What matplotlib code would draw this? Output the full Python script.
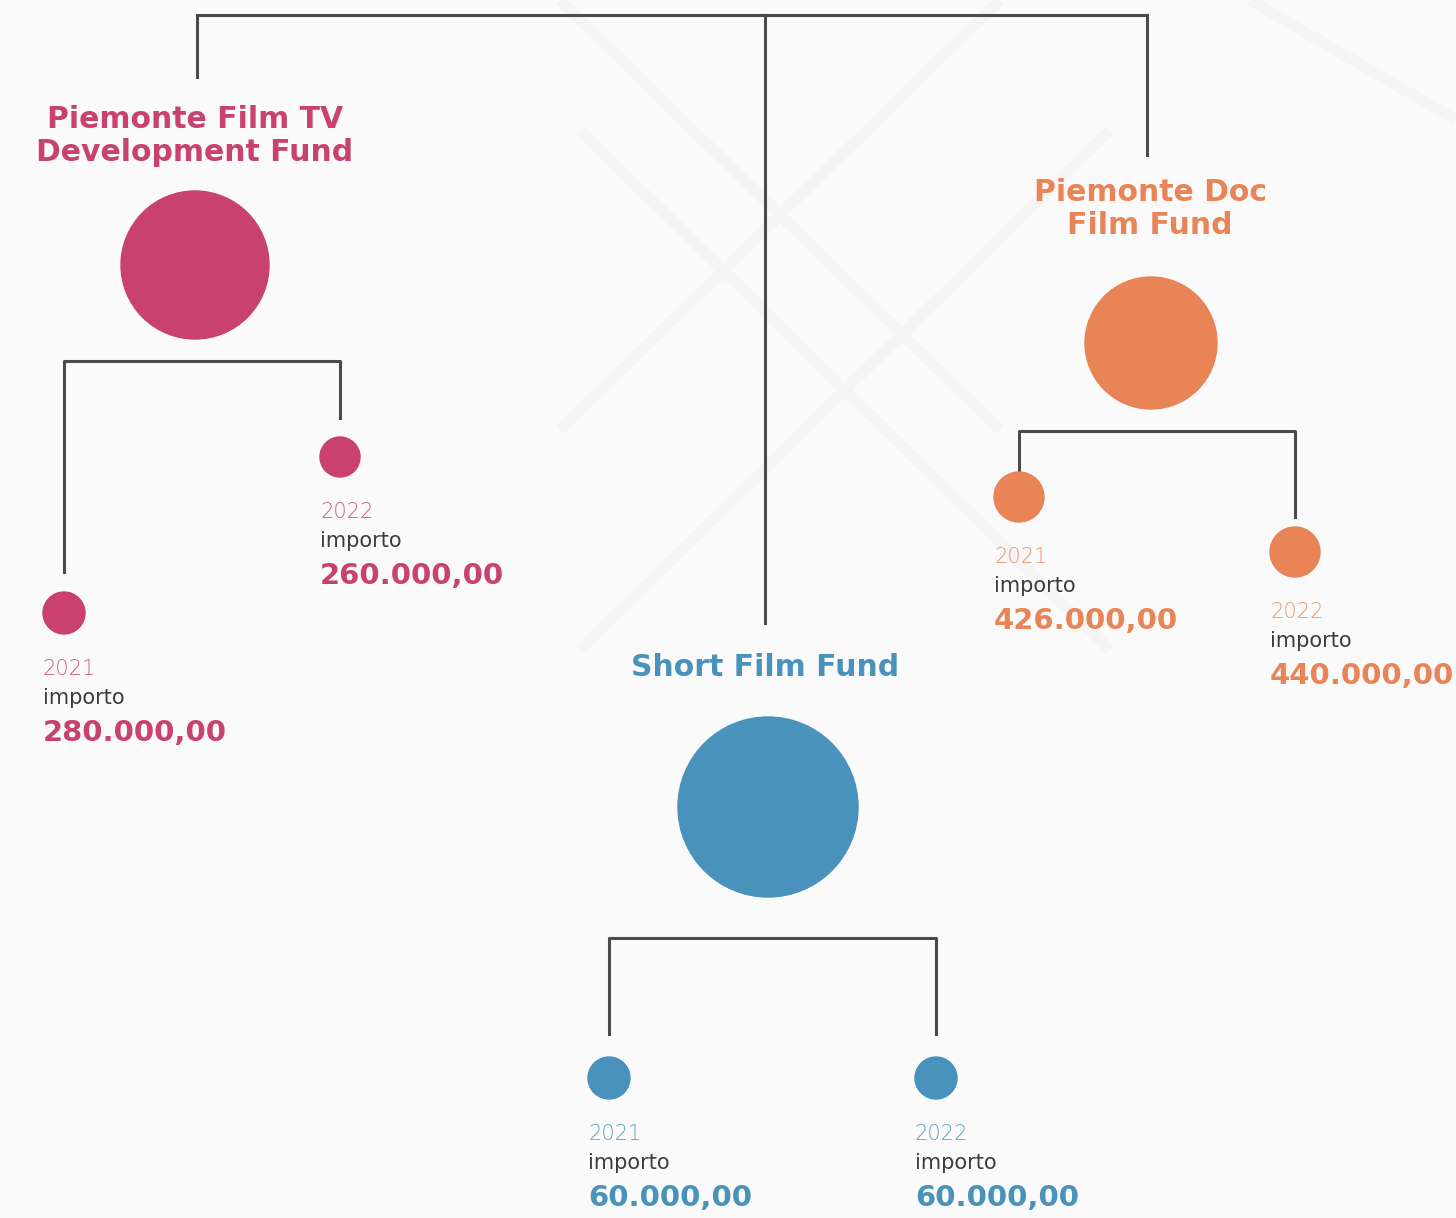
import matplotlib.pyplot as plt
from matplotlib.patches import Circle

# Dati
funds = ["Piemonte Film TV\nDevelopment Fund", "Short Film Fund", "Piemonte Doc\nFilm Fund"]
fund_colors = ["#c8416f", "#4892bb", "#e98456"]
years = ["2021", "2022"]
amounts_tv = [280000, 260000]
amounts_short = [60000, 60000]
amounts_doc = [426000, 440000]
amounts = [amounts_tv, amounts_short, amounts_doc]

LINE = "#4a4a4a"
GREY_TXT = "#3c3c3c"

# Layout in pixel (x, y dall'alto)
layout = [
    dict(top_x=197, stem_end=77, title=(195, 136), big=(195, 265, 74), bar_y=361,
         kids=[(64, 572, 613, 21), (340, 418, 457, 20)]),
    dict(top_x=765, stem_end=623, title=(765, 667), big=(768, 807, 90), bar_y=938,
         kids=[(609, 1034, 1078, 21), (936, 1034, 1078, 21)]),
    dict(top_x=1147, stem_end=155, title=(1150, 209), big=(1151, 343, 66), bar_y=431,
         kids=[(1019, 470, 497, 25), (1295, 517, 552, 25)]),
]


def fmt(v):
    s = f"{v:,.2f}"
    return s.replace(",", "X").replace(".", ",").replace("X", ".")


fig = plt.figure(figsize=(14.56, 12.18), dpi=100)
fig.patch.set_facecolor("#fafafa")
ax = fig.add_axes([0, 0, 1, 1])
ax.set_xlim(0, 1456)
ax.set_ylim(1218, 0)
ax.axis("off")

# sfondo: croci chiare
for (x0, y0, x1, y1) in [(560, 0, 1000, 430), (1000, 0, 560, 430), (580, 130, 1110, 650),
                         (1110, 130, 580, 650), (1250, 0, 1456, 120)]:
    ax.plot([x0, x1], [y0, y1], color="#f5f5f5", lw=8, solid_capstyle="butt", zorder=0)

# linea principale in alto
ax.plot([layout[0]["top_x"], layout[2]["top_x"]], [15, 15], color=LINE, lw=2.2, zorder=1)

for i, lay in enumerate(layout):
    col = fund_colors[i]
    ax.plot([lay["top_x"], lay["top_x"]], [15, lay["stem_end"]], color=LINE, lw=2.2, zorder=1)
    tx, ty = lay["title"]
    ax.text(tx, ty, funds[i], color=col, fontsize=21.5, fontweight="bold", ha="center",
            va="center", linespacing=1.2, family="DejaVu Sans")
    bx, by, br = lay["big"]
    ax.add_patch(Circle((bx, by), br, color=col, zorder=2))

    k0, k1 = lay["kids"]
    ax.plot([k0[0], k0[0], k1[0], k1[0]], [k0[1], lay["bar_y"], lay["bar_y"], k1[1]],
            color=LINE, lw=2.2, zorder=1)
    for j, (kx, kend, ky, kr) in enumerate(lay["kids"]):
        ax.add_patch(Circle((kx, ky), kr, color=col, zorder=2))
        lx = kx - kr
        ax.text(lx, ky + kr + 35, years[j], color=col, fontsize=15, alpha=0.85,
                ha="left", va="center", family="DejaVu Sans", fontweight="light")
        ax.text(lx, ky + kr + 64, "importo", color=GREY_TXT, fontsize=15,
                ha="left", va="center", family="DejaVu Sans")
        ax.text(lx, ky + kr + 99, fmt(amounts[i][j]), color=col, fontsize=21,
                fontweight="bold", ha="left", va="center", family="DejaVu Sans")

fig.savefig("out.png", dpi=100, facecolor=fig.get_facecolor())
